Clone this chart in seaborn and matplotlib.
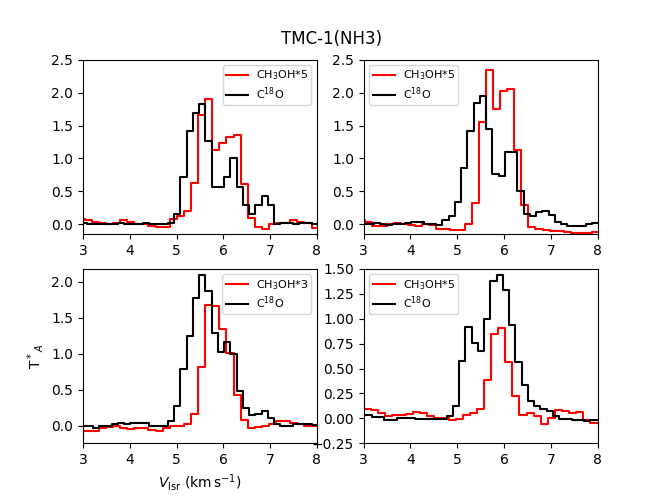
import numpy as np
import seaborn as sns
import matplotlib
matplotlib.use('Agg')
import matplotlib.pyplot as plt
from matplotlib.ticker import MultipleLocator

# channel widths (km/s) and lower edge of the first channel for each panel
c18o_dv = 0.1335
ch3oh_dv = 0.1515
c18o_v0 = [2.947, 2.947, 2.947, 2.905]
ch3oh_v0 = [2.885, 2.885, 2.885, 2.845]

# C18O spectra (black)
c18o_1 = [0.02, 0.01, 0.0, 0.01, 0.0, 0.01, 0.02, 0.01, 0.0, 0.01, 0.02, 0.01, 0.0, 0.01, 0.02,
          0.15, 0.71, 1.41, 1.69, 1.83, 1.27, 0.57, 0.57, 0.72, 1.0, 0.57, 0.29, 0.15, 0.29, 0.43, 0.29,
          0.0, 0.02, 0.02, 0.01, 0.02, 0.02, 0.01, 0.02]
c18o_2 = [0.0, 0.0, 0.02, 0.0, -0.01, 0.0, 0.01, 0.02, 0.03, 0.03, 0.01, 0.0, -0.01, 0.06, 0.13,
          0.34, 0.86, 1.42, 1.84, 1.95, 1.44, 0.76, 0.74, 1.10, 1.10, 0.51, 0.15, 0.13, 0.18, 0.2, 0.14,
          0.04, 0.01, -0.03, -0.02, -0.03, 0.0, 0.02, 0.02]
c18o_3 = [0.0, 0.0, -0.04, -0.01, -0.01, 0.02, 0.04, 0.02, 0.03, 0.03, 0.03, 0.0, 0.0, 0.0, 0.06,
          0.27, 0.79, 1.25, 1.78, 2.09, 1.87, 1.29, 1.03, 1.16, 0.99, 0.48, 0.24, 0.15, 0.16, 0.2, 0.1,
          0.02, 0.0, 0.0, 0.02, 0.02, 0.02, 0.01, 0.01]
c18o_4 = [0.03, 0.03, 0.01, 0.01, -0.02, -0.02, 0.0, 0.0, 0.0, -0.01, -0.01, -0.01, -0.01, -0.01, 0.02,
          0.12, 0.58, 0.92, 0.76, 0.68, 1.0, 1.38, 1.44, 1.29, 0.94, 0.57, 0.33, 0.17, 0.12, 0.09, 0.07,
          0.02, -0.01, -0.01, -0.02, -0.02, -0.03, -0.02, -0.02]

# CH3OH spectra, already scaled (red)
ch3oh_1 = [0.08, 0.06, 0.03, 0.02, 0.01, 0.02, 0.06, 0.04, 0.01, 0.0, -0.02, -0.04, -0.04, 0.08, 0.13,
           0.2, 0.62, 1.66, 1.91, 1.13, 1.23, 1.33, 1.36, 0.61, 0.09, -0.04, -0.08,
           0.01, 0.02, 0.02, 0.07, 0.04, 0.02, -0.06, -0.06]
ch3oh_2 = [0.07, 0.04, -0.03, -0.02, 0.0, 0.02, 0.01, -0.01, -0.02, 0.0, -0.01, -0.07, -0.08, -0.09, -0.09,
           0.0, 0.32, 1.56, 2.35, 1.75, 2.02, 2.05, 1.13, 0.29, -0.04, -0.08, -0.09,
           -0.1, -0.1, -0.12, -0.13, -0.13, -0.13, -0.12, -0.12]
ch3oh_3 = [-0.08, -0.08, -0.07, -0.04, -0.02, 0.0, -0.04, -0.05, -0.04, -0.04, -0.06, -0.07, -0.04, -0.01, 0.0,
           0.02, 0.16, 0.81, 1.68, 1.66, 1.35, 1.01, 0.43, 0.08, -0.03, -0.02, 0.0,
           0.02, 0.07, 0.07, 0.04, 0.02, 0.0, -0.01, -0.01]
ch3oh_4 = [0.09, 0.09, 0.08, 0.05, 0.02, 0.03, 0.03, 0.04, 0.06, 0.05, 0.02, 0.0, 0.0, -0.02, -0.01,
           0.03, 0.05, 0.09, 0.38, 0.85, 0.91, 0.57, 0.22, 0.03, 0.05, 0.02, -0.06,
           0.0, 0.08, 0.07, 0.05, 0.06, -0.02, -0.05, -0.05]

c18o_all = [c18o_1, c18o_2, c18o_3, c18o_4]
ch3oh_all = [ch3oh_1, ch3oh_2, ch3oh_3, ch3oh_4]
ch3oh_labels = [r'CH$_3$OH*5', r'CH$_3$OH*5', r'CH$_3$OH*3', r'CH$_3$OH*5']
legend_locs = ['upper right', 'upper left', 'upper right', 'upper left']
ylims = [(-0.15, 2.5), (-0.15, 2.5), (-0.245, 2.18), (-0.25, 1.5)]

fig, axes = plt.subplots(2, 2, figsize=(6.64, 4.98), dpi=100)
axes = axes.flatten()

for i, ax in enumerate(axes):
    t_b = np.array(c18o_all[i])
    t_r = np.array(ch3oh_all[i])
    v_b = c18o_v0[i] + (np.arange(len(t_b)) + 0.5) * c18o_dv
    v_r = ch3oh_v0[i] + (np.arange(len(t_r)) + 0.5) * ch3oh_dv
    sns.lineplot(x=v_r, y=t_r, ax=ax, color='red', lw=1.5, drawstyle='steps-mid',
                 estimator=None, label=ch3oh_labels[i])
    sns.lineplot(x=v_b, y=t_b, ax=ax, color='black', lw=1.5, drawstyle='steps-mid',
                 estimator=None, label=r'C$^{18}$O')
    ax.set_xlim(3, 8)
    ax.set_ylim(*ylims[i])
    ax.set_xlabel('')
    ax.set_ylabel('')
    ax.legend(loc=legend_locs[i], fontsize=8, borderpad=0.3, labelspacing=0.25,
              handletextpad=0.7)

axes[3].yaxis.set_major_locator(MultipleLocator(0.25))
axes[2].set_xlabel(r'$V_{\rm lsr}$ (km$\,$s$^{-1}$)')
axes[2].set_ylabel(r'T$^*$$_A$')
fig.suptitle('TMC-1(NH3)', y=0.94)

plt.savefig('out.png', dpi=100)
